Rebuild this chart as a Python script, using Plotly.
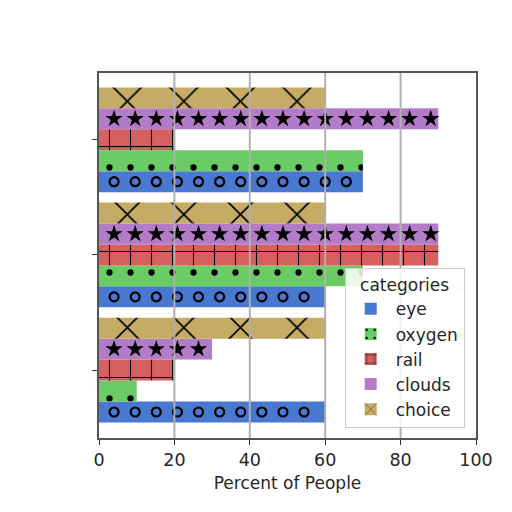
import numpy as np
import plotly.graph_objects as go

# data: three groups (bottom to top), five categories each
groups = [0, 1, 2]
categories = ["eye", "oxygen", "rail", "clouds", "choice"]
eye = [60, 60, 70]
oxygen = [10, 70, 70]
rail = [20, 90, 20]
clouds = [30, 90, 90]
choice = [60, 60, 60]
x_ticks = [0, 20, 40, 60, 80, 100]

series = [eye, oxygen, rail, clouds, choice]
colors = ["#4878d0", "#6acc64", "#d65f5f", "#b27cc8", "#c6ab64"]
patterns = ["", ".", "+", "", "x"]
pattern_sizes = [10, 21, 21, 10, 40]
pattern_solidity = [0.1, 0.07, 0.1, 0.1, 0.08]
overlay_markers = {
    "eye": dict(symbol="circle-open", size=9, color="black", line=dict(width=2.2, color="black")),
    "clouds": dict(symbol="star", size=13, color="black", line=dict(width=0)),
}

bar_w = 0.182
start = -0.455

fig = go.Figure()
for i, (name, vals) in enumerate(zip(categories, series)):
    fig.add_trace(go.Bar(
        y=groups,
        x=vals,
        orientation="h",
        name=name,
        legendgroup=name,
        width=bar_w,
        offset=start + i * bar_w,
        marker=dict(
            color=colors[i],
            line=dict(width=0),
            pattern=dict(shape=patterns[i], fgcolor="black", fgopacity=1,
                         size=pattern_sizes[i], solidity=pattern_solidity[i],
                         fillmode="overlay"),
        ),
    ))

# hatch markers that plotly patterns do not provide (rings and stars)
step = 5.6
for i, (name, vals) in enumerate(zip(categories, series)):
    if name not in overlay_markers:
        continue
    xs, ys = [], []
    for g, v in zip(groups, vals):
        px = np.arange(4.0, v - 1.0, step)
        xs.extend(px.tolist())
        ys.extend([g + start + i * bar_w + bar_w / 2] * len(px))
    fig.add_trace(go.Scatter(
        x=xs, y=ys, mode="markers", marker=overlay_markers[name],
        showlegend=False, legendgroup=name, hoverinfo="skip",
    ))

# grid lines drawn above the bars
for t in x_ticks[1:-1]:
    fig.add_shape(type="line", xref="x", yref="paper", x0=t, x1=t, y0=0, y1=1,
                  line=dict(color="#b0b0b0", width=2), layer="above")

fig.update_layout(
    width=512,
    height=512,
    margin=dict(l=91, r=44, t=65, b=82),
    paper_bgcolor="white",
    plot_bgcolor="white",
    font=dict(family="DejaVu Sans", size=17.5, color="#262626"),
    barmode="overlay",
    showlegend=True,
    legend=dict(
        title=dict(text="categories", side="top center", font=dict(size=17)),
        x=0.97, xanchor="right", y=0.027, yanchor="bottom",
        bgcolor="rgba(255,255,255,0.85)",
        bordercolor="#cccccc", borderwidth=1,
        font=dict(size=17),
        traceorder="normal",
        tracegroupgap=5,
        itemwidth=40,
    ),
    xaxis=dict(
        range=[0, 100],
        tickvals=x_ticks,
        tickfont=dict(size=17.5),
        showgrid=False,
        zeroline=False,
        ticks="outside", ticklen=5, tickcolor="#333",
        showline=True, linecolor="#555", linewidth=2, mirror=True,
        title=dict(text="Percent of People", standoff=8, font=dict(size=17)),
    ),
    yaxis=dict(
        range=[-0.59, 2.58],
        tickvals=groups,
        showticklabels=False,
        showgrid=False,
        zeroline=False,
        ticks="outside", ticklen=5, tickcolor="#333",
        showline=True, linecolor="#555", linewidth=2, mirror=True,
    ),
)

fig.write_html("out.html")
